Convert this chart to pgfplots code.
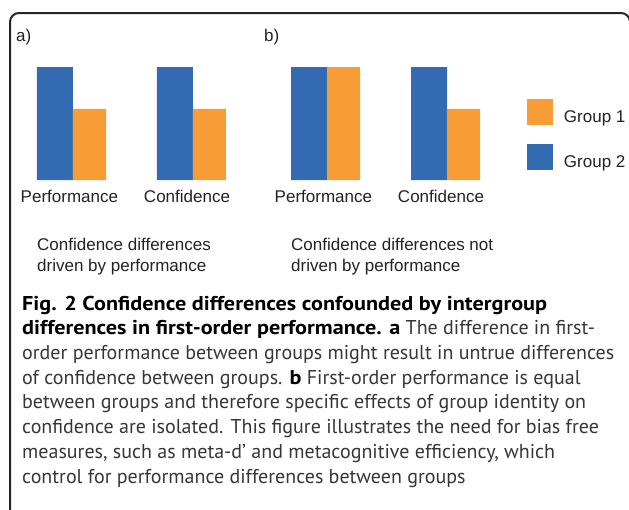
\documentclass[border=0pt]{standalone}
\usepackage{pgfplots}
\pgfplotsset{compat=1.18}
\usepackage{fontspec}
\setmainfont{Liberation Sans}
\newfontfamily\capfont[BoldFeatures={FakeStretch=1.11}]{PT Sans}
\definecolor{cblue}{HTML}{336BB3}
\definecolor{corange}{HTML}{F89C36}
\definecolor{ctext}{HTML}{222222}
\definecolor{cgray}{HTML}{363636}
\pgfplotsset{
  sqleg/.style={legend image code/.code={\fill[##1] (0pt,-8pt) rectangle (26pt,18pt);}},
  barax/.style={
    scale only axis, width=188pt, height=113pt,
    xmin=-0.3, xmax=1.2667, ymin=0, ymax=1,
    axis line style={draw=none}, major tick length=0pt,
    ytick=\empty, xtick={-0.03,0.95},
    xticklabels={Performance,Confidence},
    xticklabel style={font=\fontsize{17}{20}\selectfont, text=ctext, anchor=base, inner sep=0pt, yshift=-22pt},
    clip=false,
  },
}
\begin{document}
\begin{tikzpicture}[x=1pt,y=1pt]
\useasboundingbox (0,0) rectangle (629,-509);
\draw[line width=2pt, rounded corners=9pt, black!85] (10,-530) -- (10,-13) -- (630,-13) -- (630,-530);
\begin{scope}[every node/.style={inner sep=0pt, text=ctext, font=\fontsize{17}{20}\selectfont}]
\node[anchor=base west] at (16,-41) {a)};
\node[anchor=base west] at (264,-41) {b)};
\node[anchor=base west] at (37,-250) {Confidence differences};
\node[anchor=base west] at (37,-271) {driven by performance};
\node[anchor=base west] at (291,-250) {Confidence differences not};
\node[anchor=base west] at (291,-271) {driven by performance};
\end{scope}

\begin{axis}[barax, at={(37pt,-180pt)}, anchor=south west]
\addplot[ybar, fill=cblue, draw=none, bar width=36pt, bar shift=-18pt] coordinates {(0,1) (1,1)};
\addplot[ybar, fill=corange, draw=none, bar width=33pt, bar shift=16.5pt] coordinates {(0,0.63) (1,0.63)};
\end{axis}

\begin{axis}[barax, at={(291pt,-180pt)}, anchor=south west,
  reverse legend,
  legend style={at={(1.2553,0.7168)}, anchor=north west, draw=none, fill=none,
    inner sep=0pt, outer sep=0pt, row sep=19pt, column sep=11pt,
    font=\fontsize{17}{20}\selectfont, text=ctext, nodes={inner sep=0pt}}]
\addplot[ybar, fill=cblue, draw=none, bar width=36pt, bar shift=-18pt, sqleg] coordinates {(0,1) (1,1)};
\addlegendentry{Group 2}
\addplot[ybar, fill=corange, draw=none, bar width=33pt, bar shift=16.5pt, sqleg] coordinates {(0,1) (1,0.63)};
\addlegendentry{Group 1}
\end{axis}

\begin{scope}[every node/.style={inner sep=0pt, anchor=base west, text=cgray, font=\capfont\fontsize{20}{24}\selectfont}]
\node[text=black] at (22,-310) {\bfseries Fig. 2 Confidence differences confounded by intergroup};
\node at (22,-334) {\textcolor{black}{\bfseries differences in first-order performance. a} The difference in first-};
\node at (22,-359) {order performance between groups might result in untrue differences};
\node at (22,-384) {of confidence between groups. \textcolor{black}{\bfseries b} First-order performance is equal};
\node at (22,-408) {between groups and therefore specific effects of group identity on};
\node at (22,-433) {confidence are isolated. This figure illustrates the need for bias free};
\node at (22,-458) {measures, such as meta-d’ and metacognitive efficiency, which};
\node at (22,-483) {control for performance differences between groups};
\end{scope}
\end{tikzpicture}
\end{document}
